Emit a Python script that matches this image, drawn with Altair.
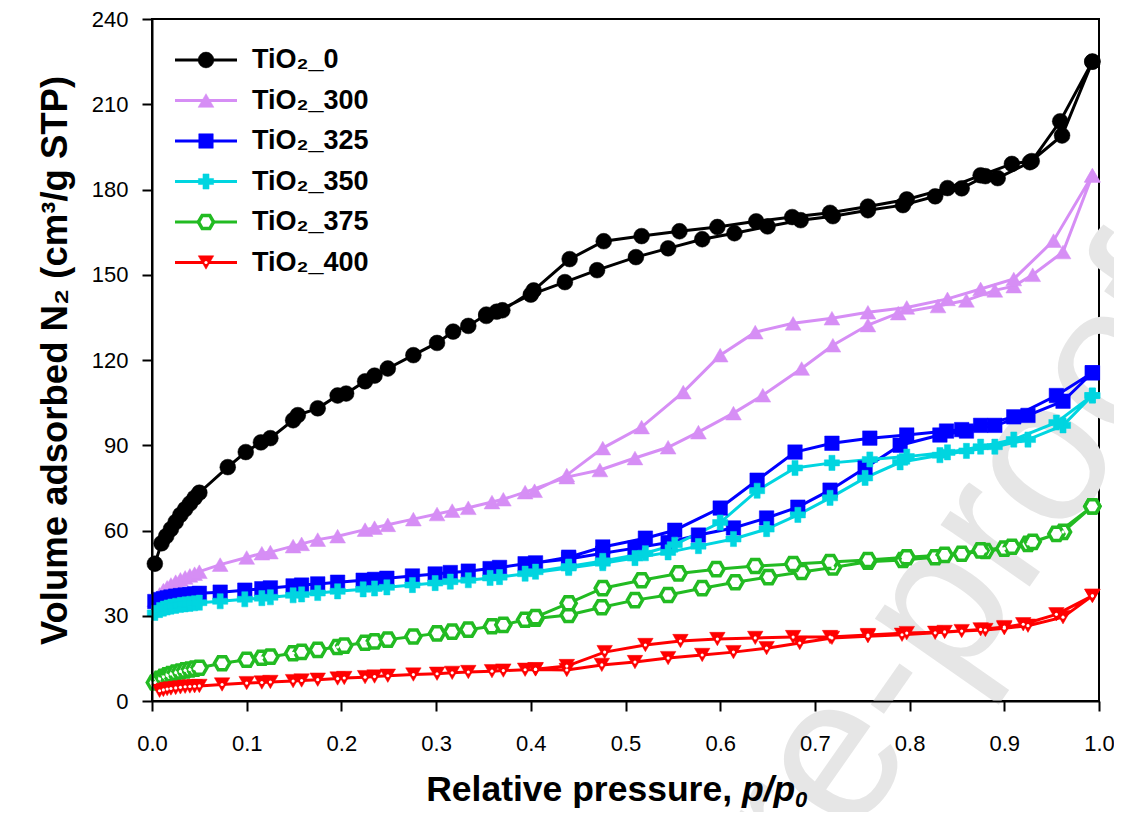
import altair as alt
import pandas as pd

FONT = "Liberation Sans"

series_names = ["TiO₂_0", "TiO₂_300", "TiO₂_325", "TiO₂_350", "TiO₂_375", "TiO₂_400"]
series_colors = ["#000000", "#D68EF5", "#0000FF", "#00D5E0", "#22BB22", "#FF0000"]
series_fills = ["#000000", "#D68EF5", "#0000FF", "#00D5E0", "#FFFFFF", "#FF0000"]
HEX = "M-1,0L-0.5,-0.866L0.5,-0.866L1,0L0.5,0.866L-0.5,0.866Z"
series_shapes = ["circle", "triangle-up", "square", "cross", HEX, "triangle-down"]
series_sizes = [250, 250, 210, 230, 230, 240]
series_strokew = [0.5, 0.5, 0.5, 0.5, 3.5, 0.5]

x_ticks = [0.0, 0.1, 0.2, 0.3, 0.4, 0.5, 0.6, 0.7, 0.8, 0.9, 1.0]
y_ticks = [0, 30, 60, 90, 120, 150, 180, 210, 240]

# TiO2_0
ads_x0 = [0.003, 0.010, 0.015, 0.020, 0.025, 0.030, 0.035, 0.040, 0.045, 0.050, 0.080, 0.099, 0.115, 0.125, 0.149, 0.154, 0.175, 0.196, 0.205, 0.225, 0.235, 0.249, 0.276, 0.301, 0.318, 0.334, 0.353, 0.364, 0.400, 0.436, 0.470, 0.511, 0.545, 0.581, 0.615, 0.650, 0.685, 0.719, 0.756, 0.793, 0.827, 0.855, 0.880, 0.893, 0.927, 0.961, 0.993]
ads_y0 = [48.3, 55.5, 58.0, 60.5, 63.0, 65.5, 67.5, 69.5, 71.5, 73.3, 82.3, 87.6, 91.0, 92.5, 98.8, 100.6, 103.0, 107.5, 108.2, 112.5, 114.5, 117.0, 121.7, 126.0, 130.0, 132.0, 136.0, 137.0, 143.0, 147.4, 151.6, 156.2, 159.3, 162.5, 164.6, 167.0, 169.2, 170.6, 172.7, 174.5, 177.6, 180.4, 184.7, 184.0, 189.6, 199.0, 225.0]
des_x0 = [0.993, 0.959, 0.929, 0.908, 0.875, 0.840, 0.797, 0.756, 0.716, 0.676, 0.638, 0.597, 0.557, 0.517, 0.477, 0.441, 0.403, 0.370, 0.353]
des_y0 = [225.0, 204.0, 190.0, 189.0, 185.0, 180.5, 176.5, 174.0, 171.8, 170.3, 168.8, 166.8, 165.3, 163.6, 161.8, 155.5, 144.5, 137.5, 135.5]

# TiO2_300
ads_x1 = [0.003, 0.008, 0.012, 0.016, 0.020, 0.025, 0.030, 0.035, 0.040, 0.045, 0.050, 0.072, 0.100, 0.116, 0.125, 0.149, 0.158, 0.175, 0.196, 0.225, 0.235, 0.249, 0.276, 0.301, 0.317, 0.334, 0.359, 0.371, 0.394, 0.438, 0.473, 0.510, 0.545, 0.577, 0.614, 0.645, 0.686, 0.719, 0.756, 0.788, 0.830, 0.860, 0.890, 0.910, 0.930, 0.962, 0.993]
ads_y1 = [35.5, 37.5, 39.0, 40.0, 41.0, 42.0, 42.8, 43.5, 44.2, 44.8, 45.5, 48.0, 50.5, 52.0, 52.4, 54.5, 55.3, 56.8, 58.0, 60.3, 61.0, 62.0, 64.0, 65.8, 67.0, 68.0, 70.0, 71.0, 73.5, 78.8, 81.3, 85.5, 89.3, 94.6, 101.3, 107.6, 117.0, 125.2, 132.3, 136.5, 139.0, 141.0, 144.5, 146.0, 150.0, 158.0, 185.0]
des_x1 = [0.993, 0.952, 0.910, 0.875, 0.840, 0.797, 0.756, 0.718, 0.677, 0.637, 0.600, 0.561, 0.517, 0.476, 0.438, 0.404]
des_y1 = [185.0, 162.0, 148.5, 145.0, 141.5, 138.5, 136.8, 134.7, 132.9, 129.8, 121.7, 108.7, 96.4, 89.0, 79.5, 74.0]

# TiO2_325
ads_x2 = [0.003, 0.008, 0.012, 0.016, 0.020, 0.025, 0.030, 0.035, 0.040, 0.045, 0.050, 0.072, 0.098, 0.116, 0.125, 0.149, 0.158, 0.175, 0.196, 0.223, 0.235, 0.248, 0.275, 0.299, 0.315, 0.334, 0.357, 0.367, 0.394, 0.440, 0.476, 0.510, 0.545, 0.577, 0.614, 0.649, 0.682, 0.716, 0.753, 0.790, 0.832, 0.860, 0.890, 0.925, 0.962, 0.993]
ads_y2 = [35.0, 35.7, 36.0, 36.3, 36.6, 36.9, 37.1, 37.3, 37.5, 37.7, 37.9, 38.3, 39.0, 39.5, 39.8, 40.5, 40.8, 41.2, 41.8, 42.5, 42.8, 43.2, 44.0, 44.7, 45.2, 45.7, 46.6, 47.0, 48.3, 50.0, 52.0, 53.8, 55.8, 58.4, 60.9, 64.4, 68.2, 74.2, 82.0, 90.0, 93.6, 95.0, 97.0, 100.5, 105.5, 115.5]
des_x2 = [0.993, 0.955, 0.910, 0.875, 0.855, 0.839, 0.797, 0.758, 0.718, 0.679, 0.639, 0.600, 0.552, 0.521, 0.476, 0.440, 0.405]
des_y2 = [115.5, 107.5, 100.0, 97.0, 95.5, 95.0, 93.6, 92.5, 90.7, 87.6, 77.7, 67.9, 60.1, 57.3, 54.2, 50.6, 48.6]

# TiO2_350
ads_x3 = [0.003, 0.008, 0.012, 0.016, 0.020, 0.025, 0.030, 0.035, 0.040, 0.045, 0.050, 0.072, 0.098, 0.116, 0.125, 0.149, 0.158, 0.175, 0.196, 0.223, 0.235, 0.248, 0.275, 0.299, 0.315, 0.334, 0.357, 0.367, 0.394, 0.440, 0.476, 0.510, 0.545, 0.577, 0.614, 0.649, 0.682, 0.716, 0.753, 0.790, 0.832, 0.860, 0.890, 0.925, 0.962, 0.993]
ads_y3 = [31.0, 32.0, 32.5, 32.9, 33.2, 33.5, 33.8, 34.0, 34.2, 34.4, 34.6, 35.1, 35.8, 36.2, 36.5, 37.2, 37.5, 38.0, 38.6, 39.3, 39.6, 40.0, 40.8, 41.5, 42.0, 42.5, 43.3, 43.6, 44.8, 46.8, 48.5, 50.3, 52.3, 54.5, 57.0, 60.5, 65.5, 71.5, 78.5, 84.0, 86.5, 88.0, 89.5, 92.0, 97.0, 107.5]
des_x3 = [0.993, 0.955, 0.910, 0.875, 0.840, 0.797, 0.758, 0.718, 0.679, 0.639, 0.600, 0.552, 0.521, 0.476, 0.440, 0.405]
des_y3 = [107.5, 98.0, 92.0, 89.5, 87.5, 86.0, 85.0, 83.8, 82.0, 74.0, 62.8, 55.0, 52.0, 49.3, 47.3, 45.5]

# TiO2_375
ads_x4 = [0.003, 0.008, 0.012, 0.016, 0.020, 0.025, 0.030, 0.035, 0.040, 0.045, 0.050, 0.074, 0.100, 0.116, 0.125, 0.149, 0.158, 0.175, 0.196, 0.203, 0.225, 0.235, 0.249, 0.276, 0.301, 0.317, 0.334, 0.359, 0.371, 0.394, 0.405, 0.440, 0.475, 0.510, 0.545, 0.581, 0.616, 0.651, 0.686, 0.719, 0.756, 0.793, 0.827, 0.855, 0.880, 0.900, 0.925, 0.962, 0.993]
ads_y4 = [6.5, 7.8, 8.5, 9.0, 9.5, 10.0, 10.4, 10.8, 11.1, 11.4, 11.7, 13.3, 14.5, 15.2, 15.6, 16.8, 17.3, 18.0, 19.0, 19.5, 20.5, 21.0, 21.6, 22.7, 23.8, 24.4, 25.1, 26.3, 26.8, 28.6, 29.0, 30.3, 33.0, 35.5, 37.3, 39.7, 41.8, 43.6, 45.4, 47.0, 49.0, 49.6, 50.6, 51.8, 52.8, 53.6, 55.3, 59.5, 68.5]
des_x4 = [0.993, 0.955, 0.930, 0.908, 0.875, 0.837, 0.797, 0.756, 0.716, 0.677, 0.637, 0.596, 0.556, 0.517, 0.476, 0.440, 0.405]
des_y4 = [68.5, 58.8, 56.0, 54.3, 53.0, 51.4, 50.6, 49.6, 48.9, 48.2, 47.5, 46.4, 44.9, 42.5, 39.7, 34.4, 29.5]

# TiO2_400
ads_x5 = [0.008, 0.012, 0.016, 0.020, 0.025, 0.030, 0.035, 0.040, 0.045, 0.050, 0.074, 0.100, 0.116, 0.125, 0.149, 0.158, 0.175, 0.196, 0.203, 0.225, 0.235, 0.249, 0.276, 0.301, 0.317, 0.334, 0.359, 0.371, 0.394, 0.405, 0.438, 0.475, 0.510, 0.545, 0.581, 0.614, 0.649, 0.684, 0.718, 0.756, 0.792, 0.827, 0.855, 0.880, 0.900, 0.925, 0.962, 0.993]
ads_y5 = [3.6, 3.9, 4.2, 4.4, 4.6, 4.8, 5.0, 5.1, 5.2, 5.3, 5.8, 6.3, 6.5, 6.7, 7.0, 7.2, 7.5, 7.9, 8.1, 8.4, 8.6, 8.9, 9.3, 9.6, 9.9, 10.2, 10.5, 10.7, 11.0, 11.1, 10.9, 12.7, 13.7, 15.1, 16.2, 17.2, 18.6, 20.4, 22.2, 22.8, 23.3, 24.0, 24.6, 25.0, 25.6, 26.5, 29.5, 37.0]
des_x5 = [0.993, 0.955, 0.920, 0.900, 0.875, 0.837, 0.797, 0.756, 0.716, 0.677, 0.637, 0.597, 0.558, 0.521, 0.478, 0.438, 0.405]
des_y5 = [37.0, 30.5, 27.0, 26.0, 25.2, 24.3, 23.9, 23.2, 22.5, 22.5, 22.2, 21.8, 21.1, 19.7, 17.2, 12.3, 11.2]

ads_x = [ads_x0, ads_x1, ads_x2, ads_x3, ads_x4, ads_x5]
ads_y = [ads_y0, ads_y1, ads_y2, ads_y3, ads_y4, ads_y5]
des_x = [des_x0, des_x1, des_x2, des_x3, des_x4, des_x5]
des_y = [des_y0, des_y1, des_y2, des_y3, des_y4, des_y5]

rows = []
for s, name in enumerate(series_names):
    k = 0
    for xv, yv in zip(ads_x[s] + des_x[s], ads_y[s] + des_y[s]):
        rows.append({"series": name, "sidx": s, "x": xv, "y": yv, "k": k})
        k += 1
df = pd.DataFrame(rows)

color_scale = alt.Scale(domain=series_names, range=series_colors)

xax = alt.Axis(values=x_ticks, format=".1f", labelFontSize=22, labelFont=FONT, labelColor="black",
               tickSize=10, tickWidth=2, tickColor="black", domainColor="black", domainWidth=2,
               grid=False, title=None, labelPadding=22, labelFlush=False, zindex=1)
yax = alt.Axis(values=y_ticks, format="d", labelFontSize=22, labelFont=FONT, labelColor="black",
               tickSize=10, tickWidth=2, tickColor="black", domainColor="black", domainWidth=2,
               grid=False, labelPadding=14, zindex=1,
               title="Volume adsorbed N₂ (cm³/g STP)", titleFont=FONT, titleFontSize=36.5,
               titleFontWeight="bold", titleColor="black", titleAngle=270, titleX=-97, titleY=341,
               titleAlign="center", titleBaseline="middle")

X = alt.X("x:Q", scale=alt.Scale(domain=[0, 1], nice=False, zero=False), axis=xax)
Y = alt.Y("y:Q", scale=alt.Scale(domain=[0, 240], nice=False, zero=False), axis=yax)

# watermark
wm = alt.Chart(pd.DataFrame({"t": ["Journal Pre-proof"]})).mark_text(
    font=FONT, fontSize=205, angle=305, color="#E6E6E6", align="right", baseline="alphabetic"
).encode(text="t:N", x=alt.value(1072), y=alt.value(290))

lines = alt.Chart(df).mark_line(strokeWidth=3).encode(
    x=X, y=Y,
    color=alt.Color("series:N", scale=color_scale, legend=None),
    order=alt.Order("k:Q"),
)

pt_layers = []
for s, name in enumerate(series_names):
    pt_layers.append(
        alt.Chart(df).transform_filter(alt.datum.sidx == s).mark_point(
            filled=True, opacity=1, fillOpacity=1, shape=series_shapes[s], size=series_sizes[s],
            fill=series_fills[s], stroke=series_colors[s], strokeWidth=series_strokew[s]
        ).encode(x=X, y=Y)
    )

dots = alt.Chart(df).transform_filter("datum.sidx >= 4").mark_point(
    filled=True, opacity=1, size=10, color="white", shape="circle"
).encode(x=X, y=Y)

main = alt.layer(wm, lines, *pt_layers, dots)

# legend
leg_df = pd.DataFrame({"series": series_names, "sidx": list(range(6))})
leg_base = alt.Chart(leg_df).transform_calculate(
    ly="41 + 40.5 * datum.sidx", lx1="23", lx2="85", lm="54", lt="100"
)
LY = alt.Y("ly:Q", scale=None, axis=None)
leg_line = leg_base.mark_rule(strokeWidth=3).encode(
    x=alt.X("lx1:Q", scale=None, axis=None), x2="lx2:Q", y=LY,
    color=alt.Color("series:N", scale=color_scale, legend=None),
)
leg_pts = []
for s, name in enumerate(series_names):
    leg_pts.append(
        leg_base.transform_filter(alt.datum.sidx == s).mark_point(
            filled=True, opacity=1, fillOpacity=1, shape=series_shapes[s], size=series_sizes[s],
            fill=series_fills[s], stroke=series_colors[s], strokeWidth=series_strokew[s]
        ).encode(x=alt.X("lm:Q", scale=None, axis=None), y=LY)
    )
leg_dot = leg_base.transform_filter("datum.sidx >= 4").mark_point(
    filled=True, opacity=1, size=10, color="white", shape="circle"
).encode(x=alt.X("lm:Q", scale=None, axis=None), y=LY)
leg_txt = leg_base.mark_text(font=FONT, fontSize=27, fontWeight="bold", align="left",
                             baseline="middle", color="black").encode(
    x=alt.X("lt:Q", scale=None, axis=None), y=LY, text="series:N",
)

# x title
xt1 = alt.Chart(pd.DataFrame({"t": ["Relative pressure,"]})).mark_text(
    font=FONT, fontSize=35.5, fontWeight="bold", align="right", baseline="alphabetic", color="black"
).encode(text="t:N", x=alt.value(580), y=alt.value(782))
xt2 = alt.Chart(pd.DataFrame({"t": ["p/p"]})).mark_text(
    font=FONT, fontSize=35.5, fontWeight="bold", fontStyle="italic", align="left",
    baseline="alphabetic", color="black"
).encode(text="t:N", x=alt.value(590), y=alt.value(782))
xt3 = alt.Chart(pd.DataFrame({"t": ["0"]})).mark_text(
    font=FONT, fontSize=22, fontWeight="bold", fontStyle="italic", align="left",
    baseline="alphabetic", color="black"
).encode(text="t:N", x=alt.value(643), y=alt.value(788))

legend = alt.layer(leg_line, *leg_pts, leg_dot, leg_txt, xt1, xt2, xt3)

chart = alt.layer(main, legend).resolve_scale(
    x="independent", y="independent"
).properties(
    width=947, height=682,
    autosize=alt.AutoSizeParams(type="none"),
    padding={"left": 144, "top": 11, "right": 15, "bottom": 111},
).configure_view(stroke="black", strokeWidth=2)

chart.save("out.html", embed_options={"renderer": "svg", "actions": False})
